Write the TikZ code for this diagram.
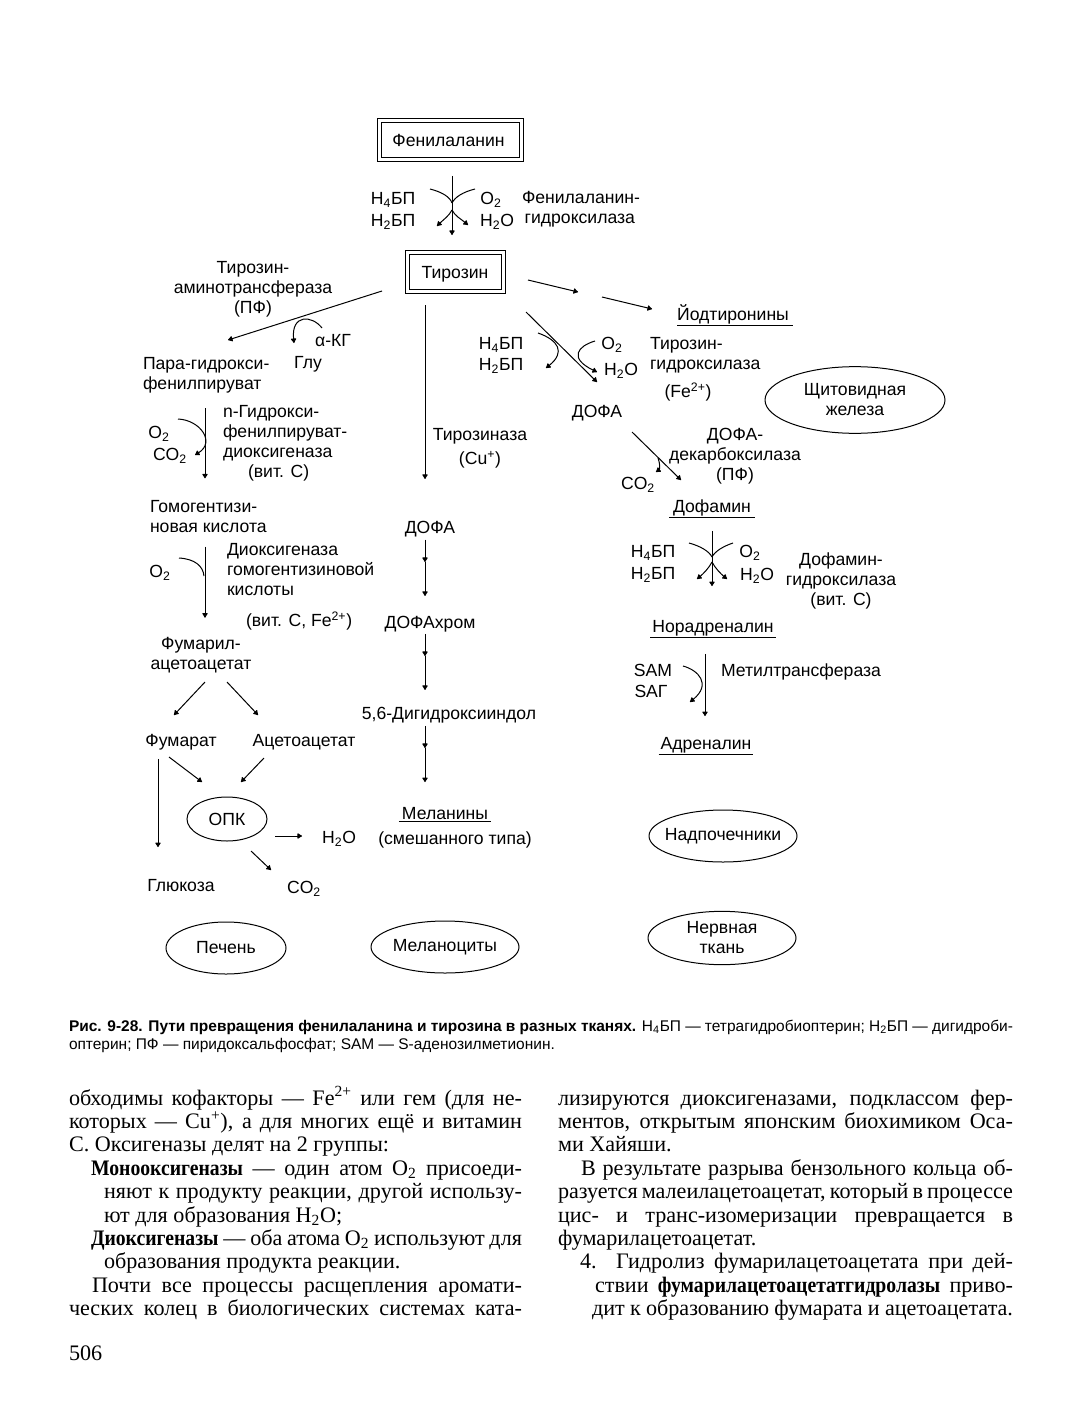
\documentclass[tikz,border=0pt]{standalone}
\usepackage{fontspec}
\setmainfont{Liberation Sans}
\newfontfamily\serifbody{Liberation Serif}
\usetikzlibrary{arrows.meta,shapes.geometric,calc}
\newcommand{\diagf}{\fontsize{13.2}{15}\selectfont}
\newcommand{\bodyf}{\serifbody\fontsize{16.6}{17.5}\selectfont}
\newcommand{\capf}{\fontsize{11.6}{13}\selectfont}
% condensed bold, as the book's bold face
\newcommand{\cbold}[1]{\scalebox{0.89}[1]{\textbf{#1}}}
% justified line: font, name, x, baseline y, width in px, text
\newcommand{\jline}[6]{\node[anchor=base west,font=#1] (#2) at (#3,#4) {\makebox[\dimexpr #5pt*3/4\relax][s]{#6}};}
% free line: font, name, x, baseline y, text
\newcommand{\fline}[5]{\node[anchor=base west,font=#1] (#2) at (#3,#4) {#5};}
% underline below a node: name, dy, left extension, right extension (px)
\newcommand{\ulin}[4]{\draw[conn] ($(#1.south west)+(-#3,#2)$) -- ($(#1.south east)+(#4,#2)$);}
% zero-width line so that an ellipse keeps the size asked for
\newcommand{\zw}[1]{\makebox[0pt]{#1}}
\tikzset{
  every node/.style={inner sep=0pt,outer sep=0pt},
  lab/.style={anchor=mid,font=\diagf,yshift=-2pt},
  blk/.style={align=center,font=\diagf,yshift=-0.75pt},
  lft/.style={anchor=west,align=left,font=\diagf,yshift=-0.75pt},
  conn/.style={line width=0.75pt,black},
  arr/.style={conn,-{Latex[length=4pt,width=5pt,round]}},
  sh/.style 2 args={shorten <=#1*0.75pt,shorten >=#2*0.75pt},
  dbox/.style={draw,line width=0.75pt,double=white,double distance=2.25pt,font=\diagf,minimum height=29.25pt},
  tissue/.style={draw,ellipse,line width=0.75pt,align=center,font=\diagf}
}
\begin{document}
\begin{tikzpicture}[x=0.75pt,y=-0.75pt]
\path[fill=white,use as bounding box] (0,0) rectangle (1077,1427);
% --- boxes
\node[dbox,minimum width=106.5pt] (phe) at (450,140.5) {\kern-2.2pt Фенилаланин};
\node[dbox,minimum width=72pt] (tyr) at (455,271.5) {\raisebox{-2pt}[8pt][2pt]{Тирозин}};
% --- phenylalanine hydroxylase
\node[lab] (h4a) at (393,198) {Н\textsubscript{4}БП};
\node[lab] (h2a) at (393,220) {Н\textsubscript{2}БП};
\node[lab] (o2a) at (491,198) {O\textsubscript{2}};
\node[lab] (w2a) at (497,220) {H\textsubscript{2}O};
\node[lft] (pah) at (522,208.5) {Фенилаланин-\\\hspace*{2pt}гидроксилаза};
% --- left column
\node[blk] (tat) at (253,288) {Тирозин-\\аминотрансфераза\\(ПФ)};
\node[lab] (akg) at (333,340) {α-КГ};
\node[lab] (glu) at (308,362) {Глу};
\node[lft] (hpp) at (143,374.5) {Пара-гидрокси-\\фенилпируват};
\node[lab] (o2b) at (159,432) {O\textsubscript{2}};
\node[lab] (co2b) at (170,454) {CO\textsubscript{2}};
\node[lft] (hppd) at (223,442.5) {n-Гидрокси-\\фенилпируват-\\диоксигеназа\\\hspace*{18.75pt}(вит. С)};
\node[lft] (hga) at (150,515.5) {Гомогентизи-\\новая кислота};
\node[lab] (o2c) at (160,571) {O\textsubscript{2}};
\node[lft] (hgd) at (227,568.5) {Диоксигеназа\\гомогентизиновой\\кислоты};
\node[lab,anchor=west] (hgdc) at (246,618) {(вит. С, Fe\textsuperscript{2+})};
\node[blk] (faa) at (201,654.5) {Фумарил-\\ацетоацетат};
\node[lab] (fum) at (181,740) {Фумарат};
\node[lab] (aca) at (304,740) {Ацетоацетат};
\node[tissue,minimum width=60pt,minimum height=33pt] (opk) at (227,819) {\zw{ОПК}};
\node[lab] (w2o) at (339,837) {H\textsubscript{2}O};
\node[lab] (glc) at (181,885) {Глюкоза};
\node[lab] (co2o) at (304,887) {CO\textsubscript{2}};
\node[tissue,minimum width=90pt,minimum height=39pt] (liver) at (226,948) {\zw{Печень}};
% --- centre column
\node[blk] (tyrase) at (480,447) {Тирозиназа\\[3pt](Cu\textsuperscript{+})};
\node[lab] (dopac) at (430,527) {ДОФА};
\node[lab] (chrom) at (430,622) {ДОФАхром};
\node[lab] (dhi) at (449,713) {5,6-Дигидроксииндол};
\node[lab] (mel) at (445,813) {Меланины};
\node[lab] (mix) at (455,838) {(смешанного типа)};
\node[tissue,minimum width=111pt,minimum height=39pt] (mlc) at (445,947) {\zw{Меланоциты}};
% --- right column
\node[lab] (iod) at (733,314) {Йодтиронины};
\node[lab] (h4b) at (501,343) {Н\textsubscript{4}БП};
\node[lab] (h2b) at (501,364) {Н\textsubscript{2}БП};
\node[lab] (o2d) at (612,343) {O\textsubscript{2}};
\node[lab] (w2d) at (621,369) {H\textsubscript{2}O};
\node[lft] (th) at (650,354.5) {Тирозин-\\гидроксилаза};
\node[lab] (thc) at (688,391) {(Fe\textsuperscript{2+})};
\node[tissue,minimum width=135pt,minimum height=50pt] (thy) at (855,400) {\zw{Щитовидная}\\\zw{железа}};
\node[lab] (dopar) at (597,411) {ДОФА};
\node[blk] (ddc) at (735,455.5) {ДОФА-\\декарбоксилаза\\(ПФ)};
\node[lab] (co2e) at (638,483) {CO\textsubscript{2}};
\node[lab] (da) at (712,506) {Дофамин};
\node[lab] (h4c) at (653,551) {Н\textsubscript{4}БП};
\node[lab] (h2c) at (653,573) {Н\textsubscript{2}БП};
\node[lab] (o2f) at (750,551) {O\textsubscript{2}};
\node[lab] (w2f) at (757,574) {H\textsubscript{2}O};
\node[blk] (dbh) at (841,579.5) {Дофамин-\\гидроксилаза\\(вит. С)};
\node[lab] (na) at (713,626) {Норадреналин};
\node[lab] (sam) at (653,670) {SAM};
\node[lab] (sah) at (651,691) {SAГ};
\node[lab] (mt) at (801,670) {Метилтрансфераза};
\node[lab] (adr) at (706,743) {Адреналин};
\node[tissue,minimum width=111pt,minimum height=39pt] (adrg) at (723,836) {\zw{Надпочечники}};
\node[tissue,minimum width=111pt,minimum height=40pt] (nerv) at (722,938) {\zw{Нервная}\\\zw{ткань}};
% --- named coordinates: vertical axes and free ends
\coordinate (xA) at (452,0); \coordinate (xB) at (205,0); \coordinate (xC) at (425,0);
\coordinate (xD) at (158,0); \coordinate (xE) at (712,0); \coordinate (xF) at (705,0);
\coordinate (pa1) at (430,189); \coordinate (pa2) at (452,203); \coordinate (pa3) at (475,189);
\coordinate (pa4) at (452,210); \coordinate (pa5) at (437,226); \coordinate (pa6) at (468,225);
\coordinate (ty1) at (528,280); \coordinate (ty2) at (578,292); \coordinate (ty3) at (602,297); \coordinate (ty4) at (652,309);
\coordinate (ta1) at (382,291); \coordinate (ta2) at (228,340); \coordinate (ta3) at (322,328); \coordinate (ta4) at (294,343);
\coordinate (hp1) at (178,419); \coordinate (hp2) at (195,455);
\coordinate (hg1) at (179,558); \coordinate (hg2) at (204,576);
\coordinate (fa1) at (205,682); \coordinate (fa2) at (174,715); \coordinate (fa3) at (227,682); \coordinate (fa4) at (258,715);
\coordinate (ok1) at (169,757); \coordinate (ok2) at (202,782); \coordinate (ok3) at (264,758); \coordinate (ok4) at (241,782);
\coordinate (ok5) at (275,836); \coordinate (ok6) at (302,836); \coordinate (ok7) at (251,851); \coordinate (ok8) at (271,870);
\coordinate (m1) at (425,562); \coordinate (m2) at (425,656); \coordinate (m3) at (425,748);
\coordinate (th1) at (526,312); \coordinate (th2) at (597,382);
\coordinate (th3) at (538,333); \coordinate (th4) at (546,368);
\coordinate (th5) at (595,341); \coordinate (th6) at (597,372);
\coordinate (dd1) at (632,432); \coordinate (dd2) at (681,480); \coordinate (dd3) at (658,458); \coordinate (dd4) at (656,472);
\coordinate (dh1) at (689,543); \coordinate (dh2) at (712,557); \coordinate (dh3) at (733,543);
\coordinate (dh4) at (712,562); \coordinate (dh5) at (697,579); \coordinate (dh6) at (727,579);
\coordinate (mt1) at (683,666); \coordinate (mt2) at (690,702);
% --- connectors
\draw[arr,sh={16}{17}] (phe.south -| xA) -- (tyr.north -| xA);
\draw[conn] (pa1) .. controls (442,192) and (450,197) .. (pa2);
\draw[conn] (pa3) .. controls (463,192) and (455,197) .. (pa2);
\draw[arr] (pa4) .. controls (449,216) and (443,220) .. (pa5);
\draw[arr] (pa4) .. controls (455,216) and (461,219) .. (pa6);
\draw[arr] (ty1) -- (ty2);
\draw[arr] (ty3) -- (ty4);
\draw[arr] (ta1) -- (ta2);
\draw[arr] (ta3) .. controls (312,315) and (291,314) .. (ta4);
\draw[arr,sh={15}{22}] (hpp.south -| xB) -- (hga.north -| xB);
\draw[arr] (hp1) .. controls (200,420) and (216,442) .. (hp2);
\draw[arr,sh={14}{20}] (hga.south -| xB) -- (faa.north -| xB);
\draw[conn] (hg1) .. controls (195,559) and (203,566) .. (hg2);
\draw[arr] (fa1) -- (fa2);
\draw[arr] (fa3) -- (fa4);
\draw[arr,sh={9}{32}] (fum.south -| xD) -- (glc.north -| xD);
\draw[arr] (ok1) -- (ok2);
\draw[arr] (ok3) -- (ok4);
\draw[arr] (ok5) -- (ok6);
\draw[arr] (ok7) -- (ok8);
\draw[arr,sh={14}{42}] (tyr.south -| xC) -- (dopac.north -| xC);
\draw[arr,sh={3}{0}] (dopac.south -| xC) -- (m1);
\draw[arr,sh={0}{20}] (m1) -- (chrom.north -| xC);
\draw[arr,sh={2}{0}] (chrom.south -| xC) -- (m2);
\draw[arr,sh={0}{17}] (m2) -- (dhi.north -| xC);
\draw[arr,sh={3}{0}] (dhi.south -| xC) -- (m3);
\draw[arr,sh={0}{25}] (m3) -- (mel.north -| xC);
\draw[arr] (th1) -- (th2);
\draw[arr] (th3) .. controls (558,340) and (566,352) .. (th4);
\draw[arr] (th5) .. controls (578,346) and (568,358) .. (th6);
\draw[arr] (dd1) -- (dd2);
\draw[arr] (dd3) .. controls (660,463) and (660,469) .. (dd4);
\draw[arr,sh={15}{34}] (da.south -| xE) -- (na.north -| xE);
\draw[conn] (dh1) .. controls (700,546) and (709,551) .. (dh2);
\draw[conn] (dh3) .. controls (724,546) and (715,551) .. (dh2);
\draw[arr] (dh4) .. controls (709,568) and (703,574) .. (dh5);
\draw[arr] (dh4) .. controls (715,568) and (721,574) .. (dh6);
\draw[arr,sh={18}{21}] (na.south -| xF) -- (adr.north -| xF);
\draw[arr] (mt1) .. controls (698,670) and (712,684) .. (mt2);
% --- underlines
\ulin{iod}{2}{0}{4}
\ulin{da}{2}{4}{4}
\ulin{na}{2}{2}{2}
\ulin{adr}{2}{2}{2}
\ulin{mel}{2}{3}{3}
% --- caption
\jline{\capf}{cap1}{69}{1031}{944}{\textbf{Рис. 9-28. Пути превращения фенилаланина и тирозина в разных тканях.} Н\textsubscript{4}БП — тетрагидробиоптерин; Н\textsubscript{2}БП — дигидроби-}
\fline{\capf}{cap2}{69}{1049}{оптерин; ПФ — пиридоксальфосфат; SAM — S-аденозилметионин.}
% --- left text column
\jline{\bodyf}{la}{69}{1105}{453}{обходимы кофакторы — Fe\textsuperscript{2+} или гем (для не-}
\jline{\bodyf}{lb}{69}{1128.4}{453}{которых — Cu\textsuperscript{+}), а для многих ещё и витамин}
\fline{\bodyf}{lc}{69}{1151.8}{С. Оксигеназы делят на 2 группы:}
\jline{\bodyf}{ld}{91}{1175.3}{431}{\cbold{Монооксигеназы} — один атом O\textsubscript{2} присоеди-}
\jline{\bodyf}{le}{104}{1198.7}{418}{няют к продукту реакции, другой использу-}
\fline{\bodyf}{lf}{104}{1222.1}{ют для образования H\textsubscript{2}O;}
\jline{\bodyf}{lg}{91}{1245.5}{431}{\cbold{Диоксигеназы} — оба атома O\textsubscript{2} используют для}
\fline{\bodyf}{lh}{104}{1268.9}{образования продукта реакции.}
\jline{\bodyf}{li}{92}{1292.3}{430}{Почти все процессы расщепления аромати-}
\jline{\bodyf}{lj}{69}{1315.7}{453}{ческих колец в биологических системах ката-}
\fline{\bodyf}{page}{69}{1360}{506}
% --- right text column
\jline{\bodyf}{ra}{558}{1105}{455}{лизируются диоксигеназами, подклассом фер-}
\jline{\bodyf}{rb}{558}{1128.4}{455}{ментов, открытым японским биохимиком Оса-}
\fline{\bodyf}{rc}{558}{1151.8}{ми Хайяши.}
\jline{\bodyf}{rd}{581}{1175.3}{432}{В результате разрыва бензольного кольца об-}
\jline{\bodyf}{re}{558}{1198.7}{455}{разуется малеилацетоацетат, который в процессе}
\jline{\bodyf}{rf}{558}{1222.1}{455}{цис- и транс-изомеризации превращается в}
\fline{\bodyf}{rg}{558}{1245.5}{фумарилацетоацетат.}
\jline{\bodyf}{rh}{580}{1268.9}{433}{4. Гидролиз фумарилацетоацетата при дей-}
\jline{\bodyf}{ri}{595}{1292.3}{418}{ствии \cbold{фумарилацетоацетатгидролазы} приво-}
\jline{\bodyf}{rj}{592}{1315.7}{421}{дит к образованию фумарата и ацетоацетата.}
\end{tikzpicture}
\end{document}
